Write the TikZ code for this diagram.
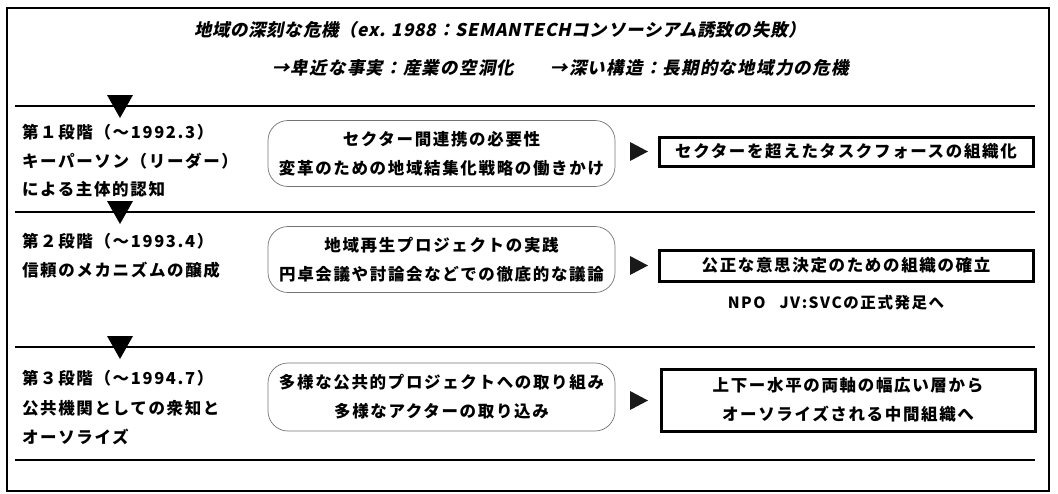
\documentclass[tikz,border=0pt]{standalone}
\usepackage{fontspec}
\newfontfamily\jp[LetterSpace=10]{Noto Sans CJK JP}
\newfontfamily\jpit[FakeSlant=0.2,LetterSpace=4]{Noto Sans CJK JP}
\newfontfamily\jpitw[FakeSlant=0.2,LetterSpace=7]{Noto Sans CJK JP}
\begin{document}
\begin{tikzpicture}[x=1pt,y=-1pt,
  base/.style={inner sep=0pt, outer sep=0pt, font=\jp\bfseries\fontsize{16.5}{29}\selectfont},
  stagetxt/.style={base, anchor=west},
  hdr/.style={inner sep=0pt, font=\jpit\bfseries\fontsize{17.5}{20}\selectfont},
  hdrw/.style={inner sep=0pt, font=\jpitw\bfseries\fontsize{17.5}{20}\selectfont},
  rbox/.style={base, draw=black!55, line width=0.7pt, rounded corners=20pt, align=center, minimum width=347pt},
  tbox/.style={base, draw=black, line width=3pt, align=center, minimum width=374pt},
  sep/.style={line width=2.6pt},
  downtri/.style={fill=black},
  righttri/.style={fill=black!90}
]
\useasboundingbox (0,0) rectangle (1058,493);
% frame
\draw[line width=1.8pt] (7,8) rectangle (1049,491);
% header
\node[hdr] (h1) at (500,30) {地域の深刻な危機（ex. 1988：SEMANTECHコンソーシアム誘致の失敗）};
\node[hdrw, anchor=west] (h2) at (272,68) {→卑近な事実：産業の空洞化\hspace{36pt}→深い構造：長期的な地域力の危機};
% separators
\draw[sep] (15,106) -- (1035,106);
\draw[sep] (15,212) -- (1035,212);
\draw[sep] (15,347) -- (1035,347);
\draw[sep] (15,460) -- (1035,460);
% down triangles
\fill[downtri] (107,95) -- (133,95) -- (120,118) -- cycle;
\fill[downtri] (107,201) -- (133,201) -- (120,224) -- cycle;
\fill[downtri] (107,336) -- (133,336) -- (120,359) -- cycle;
% stage 1
\node[stagetxt] (s1a) at (22,132) {第１段階（〜1992.3）};
\node[stagetxt] (s1b) at (22,161) {キーパーソン（リーダー）};
\node[stagetxt] (s1c) at (22,189) {による主体的認知};
\node[rbox, minimum height=66pt] (r1) at (441.5,153.5) {セクター間連携の必要性\\変革のための地域結集化戦略の働きかけ};
\fill[righttri] (630,142) -- (630,161) -- (648,151.5) -- cycle;
\node[tbox, minimum height=29pt] (t1) at (846,151.5) {セクターを超えたタスクフォースの組織化};
% stage 2
\node[stagetxt] (s2a) at (22,241) {第２段階（〜1993.4）};
\node[stagetxt] (s2b) at (22,270) {信頼のメカニズムの醸成};
\node[rbox, minimum height=66pt] (r2) at (441.5,259.5) {地域再生プロジェクトの実践\\円卓会議や討論会などでの徹底的な議論};
\fill[righttri] (630,256) -- (630,275) -- (648,265.5) -- cycle;
\node[tbox, minimum height=31pt] (t2) at (846,265.5) {公正な意思決定のための組織の確立};
\node[base, font=\jp\bfseries\fontsize{15.5}{18}\selectfont] (n2) at (836,303) {NPO\hspace{14pt}JV:SVCの正式発足へ};
% stage 3
\node[stagetxt] (s3a) at (22,378) {第３段階（〜1994.7）};
\node[stagetxt] (s3b) at (22,408) {公共機関としての衆知と};
\node[stagetxt] (s3c) at (22,437) {オーソライズ};
\node[rbox, minimum height=68pt] (r3) at (441.5,397) {多様な公共的プロジェクトへの取り組み\\多様なアクターの取り込み};
\fill[righttri] (630,391) -- (630,410) -- (648,400.5) -- cycle;
\node[tbox, minimum height=62pt] (t3) at (848,400) {上下ー水平の両軸の幅広い層から\\オーソライズされる中間組織へ};
\end{tikzpicture}
\end{document}
